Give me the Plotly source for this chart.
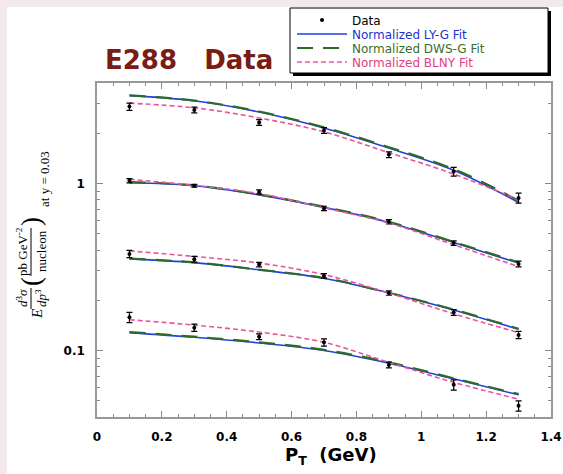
import plotly.graph_objects as go

# ---------------- data ----------------
pt = [0.1, 0.3, 0.5, 0.7, 0.9, 1.1, 1.3]

# four mass bins (top to bottom)
data_vals = [
    [2.89, 2.76, 2.32, 2.08, 1.49, 1.18, 0.82],
    [1.04, 0.97, 0.89, 0.71, 0.59, 0.44, 0.33],
    [0.379, 0.352, 0.327, 0.280, 0.221, 0.169, 0.124],
    [0.158, 0.137, 0.121, 0.112, 0.082, 0.0623, 0.0467],
]
data_err_pct = [
    [5, 4, 4, 4, 4, 6, 7],
    [3, 2, 3, 3, 3, 3, 4],
    [5, 4, 3, 3, 3, 4, 5],
    [7, 5, 4, 5, 4, 7, 7],
]
lyg_vals = [
    [3.36, 3.13, 2.68, 2.15, 1.63, 1.20, 0.77],
    [1.01, 0.97, 0.855, 0.72, 0.585, 0.443, 0.334],
    [0.354, 0.336, 0.304, 0.271, 0.221, 0.175, 0.134],
    [0.128, 0.120, 0.111, 0.100, 0.084, 0.0677, 0.0543],
]
dwsg_vals = [
    [3.37, 3.14, 2.70, 2.17, 1.65, 1.22, 0.79],
    [1.02, 0.975, 0.86, 0.725, 0.59, 0.447, 0.337],
    [0.355, 0.337, 0.305, 0.272, 0.222, 0.176, 0.135],
    [0.129, 0.121, 0.112, 0.101, 0.085, 0.0682, 0.0548],
]
blny_vals = [
    [3.03, 2.84, 2.47, 2.04, 1.53, 1.14, 0.80],
    [1.06, 0.975, 0.87, 0.715, 0.58, 0.43, 0.318],
    [0.395, 0.366, 0.334, 0.285, 0.221, 0.166, 0.128],
    [0.153, 0.142, 0.129, 0.112, 0.085, 0.0645, 0.0512],
]

x_tickvals = [0, 0.2, 0.4, 0.6, 0.8, 1.0, 1.2, 1.4]
x_ticktext = ["0", "0.2", "0.4", "0.6", "0.8", "1", "1.2", "1.4"]
y_tickvals = [0.1, 1]
y_ticktext = ["0.1", "1"]
y_minor = [0.04, 0.05, 0.06, 0.07, 0.08, 0.09,
           0.2, 0.3, 0.4, 0.5, 0.6, 0.7, 0.8, 0.9, 2, 3, 4]

# ---------------- styling ----------------
BLUE = "#2040e0"
GREEN = "#2f6a2a"
PINK = "#e8559c"
TITLE_RED = "#7a1c14"

W, H = 563, 474
L, R, T, B = 97, 551, 83, 417


def px_x(p):
    return (p - L) / (R - L)


def px_y(p):
    return (B - p) / (B - T)


fig = go.Figure()

for i in range(4):
    fig.add_trace(go.Scatter(
        x=pt, y=lyg_vals[i], mode="lines", line_shape="spline",
        line=dict(color=BLUE, width=1.6),
        name="<span style='color:#2233cc'>Normalized LY-G Fit</span>",
        legend="legend2", legendgroup="lyg", showlegend=(i == 0)))
    fig.add_trace(go.Scatter(
        x=pt, y=dwsg_vals[i], mode="lines", line_shape="spline",
        line=dict(color=GREEN, width=2.2, dash="16px,10px"),
        name="<span style='color:#3a6e2a'>Normalized DWS-G Fit</span>",
        legend="legend3", legendgroup="dwsg", showlegend=(i == 0)))
    fig.add_trace(go.Scatter(
        x=pt, y=blny_vals[i], mode="lines", line_shape="spline",
        line=dict(color=PINK, width=1.6, dash="5px,3px"),
        name="<span style='color:#e0407f'>Normalized BLNY Fit</span>",
        legend="legend4", legendgroup="blny", showlegend=(i == 0)))

for i in range(4):
    errs = [v * p / 100 for v, p in zip(data_vals[i], data_err_pct[i])]
    fig.add_trace(go.Scatter(
        x=pt, y=data_vals[i], mode="markers",
        marker=dict(color="black", size=4),
        error_y=dict(type="data", array=errs, color="black",
                     thickness=1.2, width=3),
        name="Data", legend="legend", legendgroup="data",
        showlegend=(i == 0)))

axis_common = dict(
    showgrid=False, zeroline=False, showline=True, linecolor="#999999",
    linewidth=1.5, mirror="ticks", ticks="inside", tickcolor="#888888",
    ticklen=6, tickwidth=1,
    tickfont=dict(family="DejaVu Sans", size=12, color="black", weight="bold"),
)

fig.update_xaxes(
    range=[0, 1.4], tickmode="array", tickvals=x_tickvals, ticktext=x_ticktext,
    ticklabelstandoff=8,
    minor=dict(dtick=0.05, tick0=0, ticks="inside", ticklen=3,
               tickcolor="#888888"),
    **axis_common)
fig.update_yaxes(
    type="log", range=[-1.39794, 0.60206], tickmode="array",
    tickvals=y_tickvals, ticktext=y_ticktext, ticklabelstandoff=8,
    minor=dict(tickvals=y_minor, ticks="inside", ticklen=3,
               tickcolor="#888888"),
    **axis_common)

serif = "Liberation Serif"
ann = []
# title
ann.append(dict(text="<b>E288   Data</b>", x=px_x(189), y=px_y(60),
                xref="paper", yref="paper", showarrow=False,
                xanchor="center", yanchor="middle",
                font=dict(family="DejaVu Sans", size=26, color=TITLE_RED)))
# x title
ann.append(dict(text="<b>P<sub>T</sub>  (GeV)</b>", x=px_x(331), y=px_y(456),
                xref="paper", yref="paper", showarrow=False,
                xanchor="center", yanchor="middle",
                font=dict(family="DejaVu Sans", size=18, color="black")))
# y title pieces (rotated)
ypieces = [
    ("<i>E</i>", 37, 314, 15),
    ("<i>d</i><sup>3</sup><i>σ</i>", 22, 298, 13),
    ("<i>dp</i><sup>3</sup>", 41, 298, 13),
    ("(", 31, 282, 27),
    ("pb GeV<sup>-2</sup>", 22, 252, 13),
    ("nucleon", 41, 251, 13),
    (")", 31, 222, 27),
    ("at y = 0.03", 44, 179, 13),
]
for txt, xx, yy, sz in ypieces:
    ann.append(dict(text=txt, x=px_x(xx), y=px_y(yy), xref="paper",
                    yref="paper", showarrow=False, textangle=-90,
                    xanchor="center", yanchor="middle",
                    font=dict(family=serif, size=sz, color="black")))

shapes = [
    # white page over pinkish border
    dict(type="rect", xref="paper", yref="paper", x0=px_x(7), x1=px_x(580),
         y0=px_y(7), y1=px_y(490), fillcolor="white", line_width=0,
         layer="below"),
    # fraction bars
    dict(type="line", xref="paper", yref="paper", x0=px_x(31), x1=px_x(31),
         y0=px_y(288), y1=px_y(309), line=dict(color="black", width=1)),
    dict(type="line", xref="paper", yref="paper", x0=px_x(31), x1=px_x(31),
         y0=px_y(228), y1=px_y(276), line=dict(color="black", width=1)),
    # legend shadow and box
    dict(type="rect", xref="paper", yref="paper", x0=px_x(293), x1=px_x(551),
         y0=px_y(11), y1=px_y(76), fillcolor="black", line_width=0,
         layer="above"),
    dict(type="rect", xref="paper", yref="paper", x0=px_x(290), x1=px_x(548),
         y0=px_y(8), y1=px_y(73), fillcolor="white",
         line=dict(color="black", width=1), layer="above"),
]

leg_common = dict(x=px_x(292), xanchor="left", yanchor="middle",
                  bgcolor="rgba(0,0,0,0)", borderwidth=0,
                  font=dict(family="DejaVu Sans", size=12, color="black"),
                  itemwidth=50)

fig.update_layout(
    width=W, height=H,
    margin=dict(l=L, r=W - R, t=T, b=H - B, autoexpand=False),
    paper_bgcolor="#f3e8ea", plot_bgcolor="white",
    showlegend=True,
    legend=dict(y=px_y(20), **leg_common),
    legend2=dict(y=px_y(34), **leg_common),
    legend3=dict(y=px_y(48), **leg_common),
    legend4=dict(y=px_y(62), **leg_common),
    annotations=ann, shapes=shapes,
)

fig.write_html("out.html", config={"displayModeBar": False},
               post_script="document.body.style.margin='0px';")
